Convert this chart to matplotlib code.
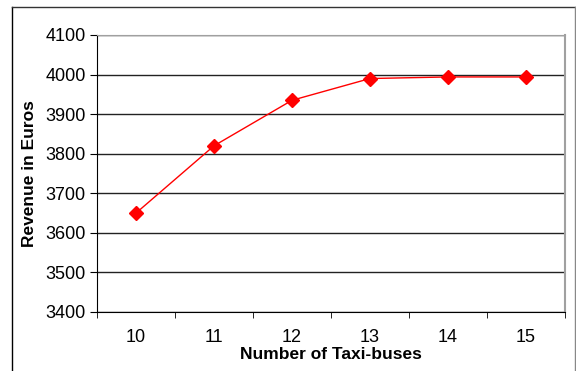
import numpy as np
import matplotlib.pyplot as plt
from matplotlib.lines import Line2D

plt.rcParams['font.family'] = ['Liberation Sans', 'DejaVu Sans']

buses = ['10', '11', '12', '13', '14', '15']
revenue = [3650, 3820, 3935, 3990, 3994, 3994]

fig = plt.figure(figsize=(5.76, 3.71), dpi=100)
ax = fig.add_axes([97/576, 59/371, 468/576, 277/371])

x = np.arange(len(buses))
ax.plot(x, revenue, color='red', lw=1, marker='D', markersize=7, zorder=3)

ax.set_xlim(-0.5, len(buses) - 0.5)
ax.set_ylim(3400, 4100)
ax.set_yticks(np.arange(3400, 4101, 100))
ax.set_xticks(x)
ax.set_xticklabels(buses)
ax.set_xticks(np.arange(-0.5, len(buses), 1), minor=True)
ax.tick_params(axis='x', which='major', length=0, labelsize=13, pad=12)
ax.tick_params(axis='x', which='minor', length=4, direction='out', color='black')
ax.tick_params(axis='y', length=5, direction='out', labelsize=13, pad=3)
ax.yaxis.grid(True, color='#222222', lw=1)
ax.set_axisbelow(True)

ax.spines['left'].set_color('black')
ax.spines['bottom'].set_color('black')
ax.spines['top'].set_color('#a0a0a0')
ax.spines['right'].set_color('#a0a0a0')
ax.spines['right'].set_linewidth(1.5)

ax.set_xlabel('Number of Taxi-buses', fontsize=12.5, fontweight='bold', labelpad=1)
ax.set_ylabel('Revenue in Euros', fontsize=12.5, fontweight='bold', labelpad=6)

# outer chart frame
fig.add_artist(Line2D([12/576, 12/576], [0, 1 - 7/371], color='black', lw=1))
fig.add_artist(Line2D([12/576, 575/576], [1 - 7/371, 1 - 7/371], color='#333333', lw=1))
fig.add_artist(Line2D([575/576, 575/576], [0, 1 - 7/371], color='#888888', lw=1))

fig.savefig('out.png', dpi=100)
